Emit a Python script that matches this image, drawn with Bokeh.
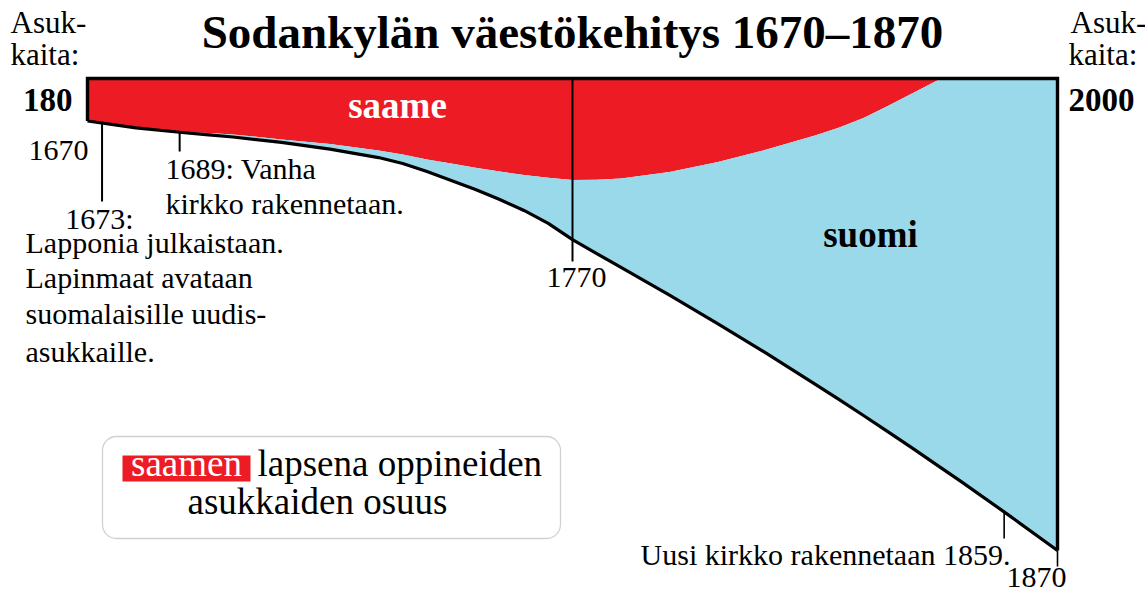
from bokeh.plotting import figure
from bokeh.models import Range1d, Label, BoxAnnotation, ColumnDataSource
from bokeh.embed import file_html
from bokeh.resources import INLINE
import numpy as np

# ---------------- data ----------------
years = [1670, 1680, 1690, 1695, 1700, 1710, 1720, 1730, 1735, 1740, 1745, 1750,
         1755, 1760, 1765, 1770, 1775, 1780, 1790, 1800, 1810, 1820, 1825, 1830,
         1835, 1840, 1846, 1850, 1860, 1870]
total = [180, 209, 230, 239, 248, 271, 299, 335, 360, 394, 432, 470,
         513, 559, 614, 683, 742, 800, 918, 1040, 1165, 1295, 1361, 1428,
         1496, 1565, 1650, 1706, 1851, 2000]
saame = [180, 209, 229, 231, 237, 258, 278, 305, 322, 343, 360, 378,
         394, 409, 421, 430, 429, 424, 396, 354, 301, 242, 208, 167,
         117, 64, 0, 0, 0, 0]
event_years = [1673, 1689, 1770, 1859]
start_year, end_year = 1670, 1870
start_label, end_label = "180", "2000"

title = "Sodankylän väestökehitys 1670–1870"

# ---------------- layout ----------------
W, H = 1145, 595
PX0, PX1 = 87, 1057      # page x of start / end year
PY0, SCALE = 78, 0.236   # page y of zero, px per inhabitant


def dx(px):
    return start_year + (px - PX0) * (end_year - start_year) / (PX1 - PX0)


def dy(py):
    return (py - PY0) / SCALE


RED = "#ED1C24"
BLUE = "#99D9EA"
FONT = "Liberation Serif"

p = figure(width=W, height=H, output_backend="svg", toolbar_location=None,
           x_range=Range1d(dx(0), dx(W)), y_range=Range1d(dy(H), dy(0)),
           x_axis_location=None, y_axis_location=None, min_border=0)
p.grid.visible = False
p.outline_line_color = None
p.background_fill_color = "white"
p.border_fill_color = "white"

src = ColumnDataSource(dict(x=years, total=total, saame=saame, zero=[0] * len(years)))
p.varea(x="x", y1="zero", y2="saame", source=src, fill_color=RED)
p.varea(x="x", y1="saame", y2="total", source=src, fill_color=BLUE)
p.line(x="x", y="total", source=src, line_color="black", line_width=3.2,
       line_join="round")

# frame: left edge, top, right edge
p.line([start_year, start_year, end_year, end_year], [total[0], 0, 0, total[-1]],
       line_color="black", line_width=3.4, line_join="miter")

# event markers
def tot_at(yr):
    return float(np.interp(yr, years, total))

p.segment(x0=[event_years[0]], y0=[tot_at(event_years[0])], x1=[event_years[0]], y1=[dy(201)],
          line_color="black", line_width=2)
p.segment(x0=[event_years[1]], y0=[tot_at(event_years[1])], x1=[event_years[1]], y1=[dy(151)],
          line_color="black", line_width=2)
p.segment(x0=[event_years[2]], y0=[0], x1=[event_years[2]], y1=[dy(261)],
          line_color="black", line_width=2)
p.segment(x0=[event_years[3]], y0=[tot_at(event_years[3])], x1=[event_years[3]], y1=[dy(538)],
          line_color="black", line_width=1.6)
p.segment(x0=[end_year], y0=[total[-1]], x1=[end_year], y1=[dy(566)],
          line_color="black", line_width=1.6)

# legend box
p.add_layout(BoxAnnotation(left=dx(102), right=dx(560), top=dy(436), bottom=dy(538),
                           fill_color="white", fill_alpha=1, line_color="#666666",
                           line_width=1.3, border_radius=14))
p.add_layout(BoxAnnotation(left=dx(122), right=dx(250), top=dy(455), bottom=dy(481),
                           fill_color=RED, fill_alpha=1, line_color=None))


def lab(text, px, base, size, align="left", bold=False, color="black"):
    mid = base - 0.34 * size
    p.add_layout(Label(x=dx(px), y=dy(mid), text=text, text_font=FONT,
                       text_font_size=f"{size}px", text_align=align,
                       text_baseline="middle",
                       text_font_style="bold" if bold else "normal",
                       text_color=color))


BODY = 30
lab(title, 572, 47, 47, align="center", bold=True)
lab("Asuk-", 10, 33, 31)
lab("kaita:", 10, 65, 31)
lab("Asuk-", 1070, 33, 31)
lab("kaita:", 1068, 65, 31)
lab(start_label, 72, 111, 33, align="right", bold=True)
lab(end_label, 1068, 111, 33, bold=True)

lab(str(start_year), 88, 160, BODY, align="right")
lab(f"{event_years[0]}:", 99, 228, BODY, align="center")
for t, b in zip(["Lapponia julkaistaan.", "Lapinmaat avataan",
                 "suomalaisille uudis-", "asukkaille."], [252, 287, 323, 361]):
    lab(t, 25, b, BODY)
lab(f"{event_years[1]}: Vanha", 165, 178, BODY)
lab("kirkko rakennetaan.", 165, 213, BODY)
lab(str(event_years[2]), 576, 287, BODY, align="center")
lab(f"Uusi kirkko rakennetaan {event_years[3]}.", 1010, 564, BODY, align="right")
lab(str(end_year), 1036, 587, BODY, align="center")

lab("saame", 397, 118, 37, align="center", bold=True, color="white")
lab("suomi", 870, 247, 37, align="center", bold=True)

lab("saamen", 186, 476, 37, align="center", color="white")
lab("lapsena oppineiden", 257, 476, 37)
lab("asukkaiden osuus", 187, 514, 37)

open("out.html", "w").write(file_html(p, INLINE))
